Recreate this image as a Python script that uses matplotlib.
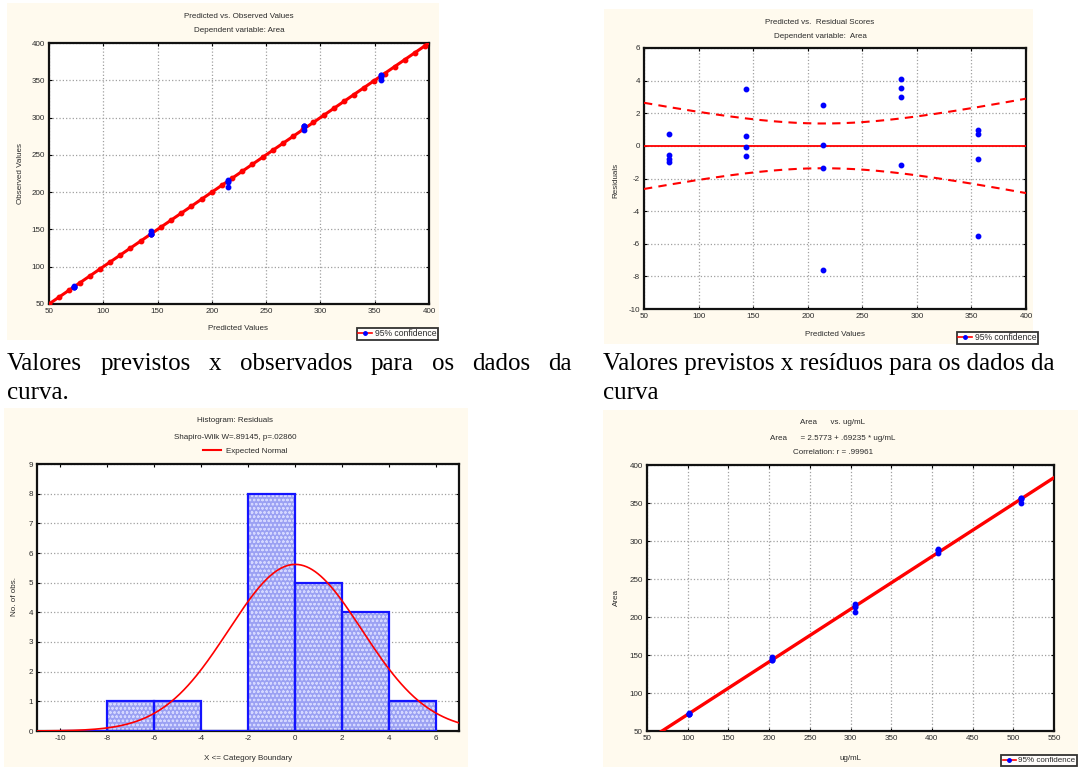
import numpy as np
import matplotlib
matplotlib.use("Agg")
import matplotlib.pyplot as plt
from matplotlib.patches import Rectangle
from matplotlib.lines import Line2D

plt.rcParams['font.family'] = ['Liberation Sans', 'DejaVu Sans']
plt.rcParams['hatch.linewidth'] = 0.6
plt.rcParams['axes.unicode_minus'] = False

# --- data ---
conc = np.array([102, 204, 306, 408, 510])          # ug/mL standards
intercept, slope = 2.5773, 0.69235                   # Area = 2.5773 + .69235 * ug/mL
resid = [[0.7, -0.55, -0.8, -1.0],                   # residuals per standard (4 replicates)
         [3.5, 0.6, -0.05, -0.6],
         [2.5, 0.05, -1.35, -7.6],
         [4.1, 3.55, 3.0, -1.15],
         [1.0, 0.75, -0.8, -5.5]]
hist_edges = [-10, -8, -6, -4, -2, 0, 2, 4, 6]
t_crit = 2.1009                                      # t(0.975, 18)

conc_all = np.repeat(conc, 4)
res_all = np.array(resid).ravel()
pred_all = intercept + slope * conc_all
obs_all = pred_all + res_all
n = len(res_all)

W, H = 1078, 767
def fx(x): return x / W
def fy(y): return 1 - y / H

fig = plt.figure(figsize=(W / 100, H / 100), dpi=100)
fig.patch.set_facecolor('white')

cream = '#fffaee'
txt = '#2a2a2a'
fs = 5.8

# panel backgrounds
for (x0, y0, x1, y1) in [(7, 3, 439, 340), (604, 9, 1033, 344), (4, 408, 468, 767), (603, 410, 1078, 767)]:
    fig.patches.append(Rectangle((fx(x0), fy(y1)), fx(x1 - x0), (y1 - y0) / H,
                                 transform=fig.transFigure, facecolor=cream, edgecolor='none', zorder=-5))

def make_ax(x0, y0, x1, y1):
    ax = fig.add_axes([fx(x0), fy(y1), fx(x1 - x0), (y1 - y0) / H])
    ax.set_facecolor('white')
    for s in ax.spines.values():
        s.set_linewidth(1.6)
        s.set_color('#111111')
    ax.tick_params(direction='in', length=2, width=0.8, top=True, right=True,
                   labelsize=fs, labelcolor=txt, pad=3)
    return ax

def grid(ax, axis='both'):
    ax.grid(True, axis=axis, linestyle=':', color='#a0a0a0', linewidth=0.9)
    ax.set_axisbelow(True)

def conf_legend(ax, x, y, size=6.2):
    h = Line2D([], [], color='red', lw=1.2, marker='o', ms=2.5, mfc='blue', mec='blue')
    leg = ax.legend([h], ['95% confidence'], loc='lower right', bbox_to_anchor=(fx(x), fy(y)),
                    bbox_transform=fig.transFigure, fontsize=size, frameon=True, fancybox=False,
                    handlelength=1.6, handletextpad=0.3, borderpad=0.2, borderaxespad=0)
    leg.get_frame().set_edgecolor('black')
    leg.get_frame().set_linewidth(1.3)
    leg.get_frame().set_facecolor('white')
    for t in leg.get_texts():
        t.set_color(txt)

def ftext(x, y, s, **kw):
    kw.setdefault('fontsize', fs)
    kw.setdefault('color', txt)
    kw.setdefault('ha', 'center')
    kw.setdefault('va', 'center')
    fig.text(fx(x), fy(y), s, **kw)

# --- panel 1: predicted vs observed ---
ax1 = make_ax(49, 43, 429, 304)
grid(ax1)
line_x = np.linspace(50, 400, 300)
ax1.plot(line_x, line_x, color='red', lw=2.2, marker='o', ms=3.2, markevery=8, zorder=3)
ax1.plot(pred_all, obs_all, 'o', color='blue', ms=3.2, zorder=4)
ax1.set_xlim(50, 400)
ax1.set_ylim(50, 400)
ax1.set_xticks(np.arange(50, 401, 50))
ax1.set_yticks(np.arange(50, 401, 50))
ftext(239, 17, 'Predicted vs. Observed Values')
ftext(239, 30, 'Dependent variable: Area')
ftext(238, 329, 'Predicted Values')
ftext(20, 173, 'Observed Values', rotation=90)
conf_legend(ax1, 438, 340)

# --- panel 2: predicted vs residuals ---
ax2 = make_ax(644, 48, 1026, 309)
grid(ax2)
s_res = np.sqrt(np.sum(res_all ** 2) / (n - 2))
sxx = np.sum((pred_all - pred_all.mean()) ** 2)
bx = np.linspace(50, 400, 200)
band = t_crit * s_res * np.sqrt(1 / n + (bx - pred_all.mean()) ** 2 / sxx)
ax2.axhline(0, color='red', lw=1.3, zorder=3)
ax2.plot(bx, band, color='red', lw=1.5, ls=(0, (4, 3)), zorder=3)
ax2.plot(bx, -band, color='red', lw=1.5, ls=(0, (4, 3)), zorder=3)
ax2.plot(pred_all, res_all, 'o', color='blue', ms=3.2, zorder=4)
ax2.set_xlim(50, 400)
ax2.set_ylim(-10, 6)
ax2.set_xticks(np.arange(50, 401, 50))
ax2.set_yticks(np.arange(-10, 7, 2))
ftext(820, 22, 'Predicted vs.  Residual Scores')
ftext(820, 36, 'Dependent variable:  Area')
ftext(835, 335, 'Predicted Values')
ftext(616, 180, 'Residuals', rotation=90)
conf_legend(ax2, 1038, 344)

# --- panel 3: histogram of residuals ---
ax3 = make_ax(37, 464, 459, 731)
grid(ax3, axis='y')
counts, edges = np.histogram(res_all, bins=hist_edges)
widths = np.diff(edges)
ax3.bar(edges[:-1], counts, width=widths, align='edge', facecolor='#9ba1f3',
        edgecolor='#d4d7ff', hatch='oooo', linewidth=0, zorder=2)
ax3.bar(edges[:-1], counts, width=widths, align='edge', fill=False,
        edgecolor='#1414ff', linewidth=1.6, zorder=3)
mu, sd = res_all.mean(), res_all.std(ddof=1)
gx = np.linspace(-11, 7, 300)
gy = n * widths[0] * np.exp(-0.5 * ((gx - mu) / sd) ** 2) / (sd * np.sqrt(2 * np.pi))
ax3.plot(gx, gy, color='red', lw=1.2, zorder=4)
ax3.set_xlim(-11, 7)
ax3.set_ylim(0, 9)
ax3.set_xticks(np.arange(-10, 7, 2))
ax3.set_yticks(np.arange(0, 10, 1))
ftext(235, 421, 'Histogram: Residuals')
ftext(235, 437, 'Shapiro-Wilk W=.89145, p=.02860')
leg3 = ax3.legend([Line2D([], [], color='red', lw=1.5)], ['Expected Normal'], loc='center',
                  bbox_to_anchor=(fx(245), fy(451)), bbox_transform=fig.transFigure,
                  frameon=False, fontsize=fs, handlelength=2.2, handletextpad=0.6)
for t in leg3.get_texts():
    t.set_color(txt)
ftext(248, 758, 'X <= Category Boundary')
ftext(15, 597, 'No. of obs.', rotation=90)

# --- panel 4: calibration curve ---
ax4 = make_ax(647, 465, 1054, 731)
grid(ax4)
cx = np.linspace(50, 550, 300)
ax4.plot(cx, intercept + slope * cx, color='red', lw=2.4, zorder=3)
ax4.plot(conc_all, obs_all, 'o', color='blue', ms=3.2, zorder=4)
ax4.set_xlim(50, 550)
ax4.set_ylim(50, 400)
ax4.set_xticks(np.arange(50, 551, 50))
ax4.set_yticks(np.arange(50, 401, 50))
ftext(833, 423, 'Area      vs. ug/mL')
ftext(833, 439, 'Area      = 2.5773 + .69235 * ug/mL')
ftext(833, 453, 'Correlation: r = .99961')
ftext(850, 758, 'ug/mL')
ftext(616, 598, 'Area', rotation=90)
conf_legend(ax4, 1077, 766, size=5.8)

# --- captions (Times-like, justified first line on the left) ---
cap_kw = dict(fontsize=18, color='black', family=['Liberation Serif', 'DejaVu Serif'], va='baseline')

def justify(words, x0, x1, y):
    texts = [fig.text(0, fy(y), w, ha='left', **cap_kw) for w in words]
    r = fig.canvas.get_renderer()
    wpx = [t.get_window_extent(renderer=r).width for t in texts]
    gap = (x1 - x0 - sum(wpx)) / (len(words) - 1)
    x = x0
    for t, w in zip(texts, wpx):
        t.set_x(fx(x))
        x += w + gap

justify('Valores previstos x observados para os dados da'.split(), 7, 572, 370)
fig.text(fx(7), fy(399), 'curva.', ha='left', **cap_kw)
fig.text(fx(603), fy(370), 'Valores previstos x resíduos para os dados da', ha='left', **cap_kw)
fig.text(fx(603), fy(399), 'curva', ha='left', **cap_kw)

fig.savefig('out.png', dpi=100)
